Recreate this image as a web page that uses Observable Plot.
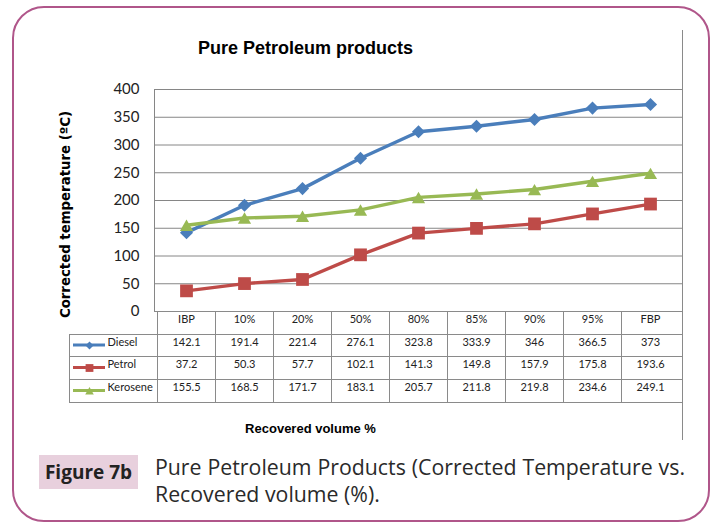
<!DOCTYPE html>
<html>
<head>
<meta charset="utf-8">
<script src="https://cdn.jsdelivr.net/npm/d3@7"></script>
<script src="https://cdn.jsdelivr.net/npm/@observablehq/plot@0.6"></script>
<style>
  body { margin: 0; background: #fff; }
  #wrap { position: relative; width: 717px; height: 522px; overflow: hidden; background: #fff; }
  #border { position: absolute; left: 12px; top: 6px; width: 698px; height: 516px; box-sizing: border-box;
            border: 2.7px solid #b0568a; border-radius: 32px; }
  #chart { position: absolute; left: 0; top: 0; }
  #fig { position: absolute; left: 39px; top: 455px; width: 99px; height: 34px; background: #e8d0dd;
         font: bold 19px "Open Sans", sans-serif; color: #222; text-align: center; line-height: 34px; }
  #cap { position: absolute; left: 155px; top: 453px; width: 530px; font: 21.3px "Open Sans", sans-serif;
         line-height: 27px; color: #2a2a2a; text-align: justify; }
</style>
</head>
<body>
<div id="wrap">
  <div id="border"></div>
  <div id="chart"></div>
  <div id="fig">Figure 7b</div>
  <div id="cap">Pure Petroleum Products (Corrected Temperature vs. Recovered volume (%).</div>
</div>
<script>
// ---- data ----
const categories = ["IBP", "10%", "20%", "50%", "80%", "85%", "90%", "95%", "FBP"];
const seriesNames = ["Diesel", "Petrol", "Kerosene"];
const diesel   = [142.1, 191.4, 221.4, 276.1, 323.8, 333.9, 346, 366.5, 373];
const petrol   = [37.2, 50.3, 57.7, 102.1, 141.3, 149.8, 157.9, 175.8, 193.6];
const kerosene = [155.5, 168.5, 171.7, 183.1, 205.7, 211.8, 219.8, 234.6, 249.1];
const yTicks = [0, 50, 100, 150, 200, 250, 300, 350, 400];
const titleText = "Pure Petroleum products";
const yLabel = "Corrected temperature (ºC)";
const xLabel = "Recovered volume %";

// ---- style ----
const colors = ["#4a7ebb", "#be4b48", "#98b954"];
const symbols = ["diamond2", "square", "triangle"];
const radii = [5.9, 7.2, 4.9];
const legendRadii = [3.6, 4.4, 3.2];
const gridColor = "#868686";
const W = 717, H = 450, plotBottom = 311;
const rowOffsets = [11.5, 34, 56.5, 79.5];   // header, Diesel, Petrol, Kerosene (px below y=0)
const rowLines = [0, 23, 45, 68, 91];

const values = [diesel, petrol, kerosene];
const data = [];
seriesNames.forEach((s, k) => values[k].forEach((v, i) => data.push({series: s, cat: categories[i], value: v})));

function tableGrid(index, scales, vals, dims) {
  const x = scales.x;
  const xL = dims.marginLeft, xR = dims.width - dims.marginRight;
  const top = dims.height - dims.marginBottom;
  const g = d3.create("svg:g");
  const lines = g.append("g").attr("stroke", "#8a8a8a").attr("stroke-width", 1).attr("shape-rendering", "crispEdges");
  // chart-area right border
  lines.append("line").attr("x1", xR).attr("x2", xR).attr("y1", 30).attr("y2", 440);
  // horizontal lines
  rowLines.forEach((r, j) => {
    lines.append("line").attr("x1", j === 0 ? xL : 69).attr("x2", xR).attr("y1", top + r).attr("y2", top + r);
  });
  // vertical lines
  categories.forEach(c => {
    const cx = x(c);
    lines.append("line").attr("x1", cx).attr("x2", cx).attr("y1", top).attr("y2", top + rowLines[4]);
  });
  lines.append("line").attr("x1", 69).attr("x2", 69).attr("y1", top + rowLines[1]).attr("y2", top + rowLines[4]);
  // legend key lines
  seriesNames.forEach((s, k) => {
    g.append("line").attr("x1", 73).attr("x2", 105)
      .attr("y1", top + rowOffsets[k + 1]).attr("y2", top + rowOffsets[k + 1])
      .attr("stroke", colors[k]).attr("stroke-width", 3);
  });
  return g.node();
}

const tableFont = {fontSize: 11, fill: "#222", fontFamily: "Lato"};
const marks = [
  Plot.ruleY(yTicks, {y: d => d, stroke: gridColor, strokeWidth: 1}),
  Plot.frame({stroke: gridColor}),
  Plot.text(yTicks, {y: d => d, text: d => String(d), frameAnchor: "left", dx: -15, textAnchor: "end",
                     fontSize: 15, fill: "#222", fontFamily: "Lato"}),
  tableGrid
];
seriesNames.forEach((s, k) => {
  const d = data.filter(r => r.series === s);
  marks.push(Plot.line(d, {x: "cat", y: "value", stroke: colors[k], strokeWidth: 3.4}));
});
seriesNames.forEach((s, k) => {
  const d = data.filter(r => r.series === s);
  marks.push(Plot.dot(d, {x: "cat", y: "value", symbol: symbols[k], r: radii[k], fill: colors[k], stroke: "none",
                          dy: symbols[k] === "triangle" ? 2 : 0}));
});
// table header
marks.push(Plot.text(categories, {x: d => d, text: d => d, frameAnchor: "bottom", dy: rowOffsets[0], ...tableFont}));
// table values + legend
seriesNames.forEach((s, k) => {
  marks.push(Plot.text(values[k], {x: (d, i) => categories[i], text: d => String(d), frameAnchor: "bottom",
                                   dy: rowOffsets[k + 1], ...tableFont}));
  marks.push(Plot.text([s], {text: d => d, frameAnchor: "bottom-left", dx: -47, dy: rowOffsets[k + 1],
                             textAnchor: "start", ...tableFont}));
  marks.push(Plot.dot([s], {frameAnchor: "bottom-left", dx: 89 - 154, dy: rowOffsets[k + 1] + (symbols[k] === "triangle" ? 1 : 0),
                            symbol: symbols[k], r: legendRadii[k], fill: colors[k], stroke: "none"}));
});
// title and axis labels
marks.push(Plot.text([titleText], {text: d => d, frameAnchor: "top-left", dx: 151, dy: -48, textAnchor: "middle",
                                   fontSize: 18, fontWeight: "bold", fill: "#000",
                                   fontFamily: "'Liberation Sans', Arial, sans-serif"}));
marks.push(Plot.text([yLabel], {text: d => d, frameAnchor: "left", dx: -89, dy: 14, rotate: -90, textAnchor: "middle",
                                fontSize: 13.3, fontWeight: "bold", fill: "#000",
                                fontFamily: "'DejaVu Sans', sans-serif"}));
marks.push(Plot.text([xLabel], {text: d => d, frameAnchor: "bottom-left", dx: 156, dy: 121, textAnchor: "middle",
                                fontSize: 13, fontWeight: "bold", fill: "#000",
                                fontFamily: "'Liberation Sans', Arial, sans-serif"}));

const chart = Plot.plot({
  width: W, height: H,
  marginLeft: 154, marginRight: 35, marginTop: 89, marginBottom: H - plotBottom,
  x: {type: "band", domain: categories, padding: 0, axis: null},
  y: {domain: [0, 400], axis: null},
  style: {background: "transparent", fontFamily: "Lato", overflow: "visible"},
  marks
});
document.getElementById("chart").appendChild(chart);
</script>
</body>
</html>
